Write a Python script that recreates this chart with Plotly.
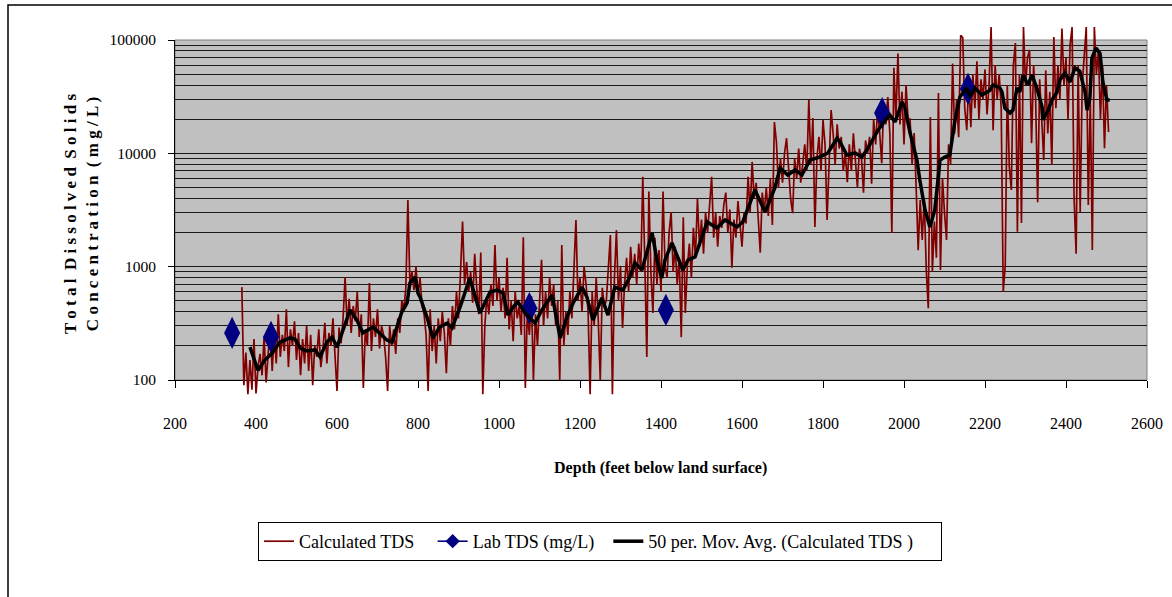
import plotly.graph_objects as go

# ---------------- data ----------------
# Calculated TDS (mg/L), sampled every 5 ft starting at 365 ft
calc_start = 365
calc_step = 5
calc_tds = [
    660, 90, 175, 75, 150, 82, 230, 76, 130, 170,
    110, 240, 95, 190, 300, 120, 260, 140, 380, 160,
    250, 180, 420, 130, 280, 200, 330, 150, 260, 110,
    230, 140, 300, 120, 250, 90, 200, 160, 280, 130,
    180, 320, 140, 260, 200, 350, 150, 80, 290, 210,
    350, 811, 300, 520, 260, 450, 330, 600, 240, 380,
    85, 280, 200, 718, 180, 350, 240, 420, 190, 300,
    250, 160, 80, 300, 200, 280, 170, 350, 260, 500,
    420, 650, 3870, 700, 900, 620, 1000, 560, 800, 450,
    380, 250, 80, 420, 180, 300, 140, 350, 220, 400,
    260, 115, 350, 200, 450, 280, 600, 350, 900, 2500,
    700, 1100, 600, 900, 480, 1300, 650, 380, 1330, 75,
    300, 550, 380, 700, 450, 1550, 500, 800, 400, 650,
    350, 1200, 280, 500, 220, 600, 350, 450, 250, 1820,
    85, 400, 250, 550, 100, 380, 200, 480, 1150, 300,
    600, 350, 800, 450, 700, 300, 500, 100, 1550, 200,
    400, 250, 600, 350, 900, 2580, 500, 800, 400, 1000,
    700, 400, 75, 600, 300, 800, 350, 100, 650, 450,
    500, 900, 1900, 75, 800, 2100, 500, 1000, 288, 700,
    1200, 600, 1500, 800, 1300, 700, 1600, 900, 6200, 1100,
    160, 4600, 900, 390, 1800, 700, 1400, 600, 4600, 1000,
    800, 2000, 3030, 900, 1500, 700, 1200, 239, 2730, 390,
    1000, 1600, 800, 2200, 1200, 4000, 1500, 2600, 1300, 3000,
    2000, 3500, 6200, 1800, 3000, 1500, 2800, 2200, 3500, 4500,
    2000, 3200, 980, 2600, 1800, 3800, 2200, 1500, 3000, 2400,
    6200, 3000, 8400, 4000, 5500, 2500, 1330, 4500, 3000, 5000,
    2800, 6000, 2330, 18900, 12600, 5000, 9000, 5500, 10000, 13600,
    7000, 4000, 2960, 9000, 6000, 11000, 5500, 8000, 12000, 7000,
    29500, 8000, 20500, 2240, 9000, 14000, 7000, 19700, 12000, 2580,
    9000, 24100, 15000, 8000, 18000, 11000, 14000, 7000, 10000, 5550,
    12000, 7000, 15000, 8500, 5000, 11000, 9000, 4500, 13000, 10000,
    14000, 5400, 20000, 12000, 25000, 15000, 8200, 28000, 18000, 31400,
    15000, 1980, 57000, 20000, 76000, 18000, 35000, 12000, 40000, 20000,
    20000, 8000, 15100, 5000, 1400, 3870, 1720, 4000, 935, 430,
    20900, 900, 2500, 1200, 34000, 935, 6000, 3000, 1720, 12000,
    8000, 62000, 15000, 30000, 13900, 110000, 105000, 25000, 16000, 45000,
    17000, 50000, 25000, 65000, 20000, 45000, 30000, 55000, 22000, 40000,
    130000, 16000, 60000, 30000, 50000, 25000, 597, 1030, 40000, 7600,
    4750, 60000, 94000, 2030, 50000, 2430, 130000, 40000, 70000, 81600,
    12300, 60000, 30000, 3700, 45000, 20000, 8730, 54000, 15000, 35000,
    7900, 106000, 25000, 60000, 30000, 126000, 40000, 70000, 20000, 90000,
    130000, 4000, 1300, 60000, 3000, 40000, 80000, 130000, 3500, 30000,
    1400, 130000, 50000, 80000, 20000, 60000, 11100, 40000, 15400,
]
calc_depth = [calc_start + calc_step * i for i in range(len(calc_tds))]

# Lab TDS (mg/L)
lab_depth = [341, 437, 1075, 1412, 1946, 2158]
lab_tds = [260, 240, 430, 415, 22700, 37000]

# 50 per. moving average of calculated TDS
ma_depth = [
    385, 405, 422, 440, 459, 484, 496, 509, 526, 546, 558, 575, 588, 600, 615,
    632, 649, 664, 689, 706, 723, 736, 748, 760, 773, 780, 793, 800, 805, 822,
    837, 854, 872, 884, 904, 928, 953, 978, 995, 1010, 1022, 1035, 1047, 1064,
    1089, 1106, 1131, 1151, 1168, 1183, 1205, 1217, 1232, 1254, 1269, 1286,
    1306, 1323, 1336, 1353, 1378, 1390, 1402, 1410, 1427, 1439, 1454, 1467,
    1484, 1514, 1538, 1558, 1588, 1602, 1632, 1657, 1681, 1694, 1713, 1731,
    1748, 1768, 1793, 1812, 1835, 1842, 1859, 1879, 1896, 1911, 1933, 1948,
    1965, 1978, 1995, 2002, 2015, 2032, 2039, 2052, 2064, 2076, 2089, 2101,
    2113, 2126, 2138, 2155, 2163, 2175, 2192, 2212, 2220, 2237, 2242, 2249,
    2262, 2269, 2279, 2286, 2294, 2306, 2316, 2328, 2341, 2343, 2356, 2365,
    2378, 2385, 2397, 2410, 2422, 2434, 2447, 2452, 2459, 2464, 2474, 2484,
    2491, 2501, 2508,
]
ma_tds = [
    195, 122, 150, 173, 216, 235, 230, 191, 180, 184, 160, 216, 239, 195, 276,
    415, 338, 260, 294, 260, 225, 216, 294, 398, 478, 718, 811, 585, 540, 360,
    235, 294, 318, 288, 441, 794, 390, 597, 622, 585, 374, 441, 488, 390,
    318, 415, 562, 235, 360, 478, 661, 540, 338, 529, 374, 661,
    622, 811, 1080, 935, 1980, 1150, 794, 1150, 1620, 1270, 935, 1150,
    1220, 2480, 2190, 2580, 2240, 2480, 4750, 3030, 4940, 7430, 6440, 7130,
    6440, 8730, 9290, 10070, 13600, 12600, 9670, 10070, 9290, 11100, 15400, 18500,
    21800, 18900, 28400, 25600, 15100, 8730, 5820, 3160, 2240, 3160, 8730, 9290,
    9670, 19700, 31400, 37700, 31400, 37700, 32700, 35800, 40100, 37700, 34800, 25100,
    22700, 24100, 37700, 34800, 49100, 40100, 49100, 37700, 25600, 19700, 24100, 29500,
    34800, 44400, 51100, 42600, 56600, 53100, 34800, 24100, 30800, 69300, 85000, 76000,
    42600, 29500, 29500,
]

x_ticks = [200, 400, 600, 800, 1000, 1200, 1400, 1600, 1800, 2000, 2200, 2400, 2600]
y_major = [100, 1000, 10000, 100000]
y_minor = [m * 10 ** e for e in (2, 3, 4) for m in range(2, 10)]

# ---------------- layout geometry ----------------
W, H = 1172, 597
ML, MR, MT, MB = 175, 25, 10, 190
PH = H - MT - MB            # 397
PW = W - ML - MR            # 972
y_dom = [(PH - (380 - MT)) / PH, (PH - (40 - MT)) / PH]
dec_px = 340 / 3.0
y2_range = [2 - (H - MB - 380) / dec_px, 5 + (40 - MT) / dec_px]

def px_x(px):
    return (px - ML) / PW

def px_y(py):
    return (H - MB - py) / PH

serif = "Liberation Serif"
NB = "\u00a0"

fig = go.Figure()

# placeholder on the main (grid) axis so the gridded subplot is created
fig.add_trace(go.Scatter(x=[None], y=[None], yaxis="y", showlegend=False,
                         hoverinfo="skip", mode="lines"))
fig.add_trace(go.Scatter(
    x=calc_depth, y=calc_tds, name="Calculated TDS" + NB * 3, mode="lines",
    line=dict(color="#800000", width=1.7), yaxis="y2",
))
fig.add_trace(go.Scatter(
    x=[None], y=[None], name="Lab TDS (mg/L)" + NB * 2, mode="lines+markers",
    line=dict(color="#000080", width=1.6),
    marker=dict(symbol="diamond", size=11, color="#000080"), yaxis="y2",
))
fig.add_trace(go.Scatter(
    x=lab_depth, y=lab_tds, name="Lab TDS (mg/L)", mode="markers",
    marker=dict(symbol="diamond-tall", size=23, color="#000080"),
    showlegend=False, yaxis="y2",
))
fig.add_trace(go.Scatter(
    x=ma_depth, y=ma_tds, name="50 per. Mov. Avg. (Calculated TDS )" + NB * 5,
    mode="lines", line=dict(color="#000000", width=3.5), yaxis="y2",
))

fig.update_layout(
    width=W, height=H,
    margin=dict(l=ML, r=MR, t=MT, b=MB, autoexpand=False),
    paper_bgcolor="white",
    plot_bgcolor="rgba(0,0,0,0)",
    font=dict(family=serif, size=16, color="black"),
    showlegend=True,
    xaxis=dict(
        range=[200, 2600], tickvals=x_ticks, anchor="y",
        showgrid=False, zeroline=False,
        showline=True, linecolor="black", linewidth=1,
        ticks="outside", ticklen=7, tickcolor="black",
        tickfont=dict(family=serif, size=16, color="black"),
        ticklabelstandoff=22,
    ),
    yaxis=dict(
        type="log", range=[2, 5], domain=y_dom, anchor="x",
        tickvals=y_major, ticktext=[str(v) for v in y_major],
        showgrid=True, gridcolor="#1a1a1a", gridwidth=1,
        zeroline=False, showline=True, linecolor="black", linewidth=1,
        ticks="outside", ticklen=6, tickcolor="black",
        tickfont=dict(family=serif, size=15.5, color="black"),
        ticklabelstandoff=9,
        minor=dict(tickmode="array", tickvals=y_minor, showgrid=True,
                   gridcolor="#1a1a1a", gridwidth=1, ticks=""),
    ),
    yaxis2=dict(
        type="log", range=y2_range, domain=[0, 1], anchor="x",
        visible=False, showgrid=False, zeroline=False,
    ),
    legend=dict(
        orientation="h", x=px_x(258), y=px_y(522), xanchor="left", yanchor="top",
        bordercolor="black", borderwidth=1, bgcolor="white",
        font=dict(family=serif, size=18, color="black"),
    ),
    shapes=[
        dict(type="rect", xref="x domain", yref="y domain", x0=0, x1=1, y0=0, y1=1,
             fillcolor="#C0C0C0", line=dict(color="#808080", width=1), layer="below"),
        dict(type="rect", xref="paper", yref="paper",
             x0=px_x(8), x1=px_x(1185), y0=px_y(610), y1=px_y(5),
             fillcolor="rgba(0,0,0,0)", line=dict(color="black", width=1.5)),
    ],
    annotations=[
        dict(text="<b>Depth (feet below land surface)</b>", xref="paper", yref="paper",
             x=px_x(660), y=px_y(468), xanchor="center", yanchor="middle",
             showarrow=False, font=dict(family=serif, size=16, color="black")),
        dict(text="<b>T o t a l \u00a0D i s s o l v e d \u00a0S o l i d s<br>"
                  "C o n c e n t r a t i o n \u00a0( m g / L )</b>",
             xref="paper", yref="paper", x=px_x(81), y=px_y(214),
             xanchor="center", yanchor="middle", textangle=-90,
             showarrow=False, font=dict(family=serif, size=17, color="black")),
    ],
)

fig.write_html("out.html")
